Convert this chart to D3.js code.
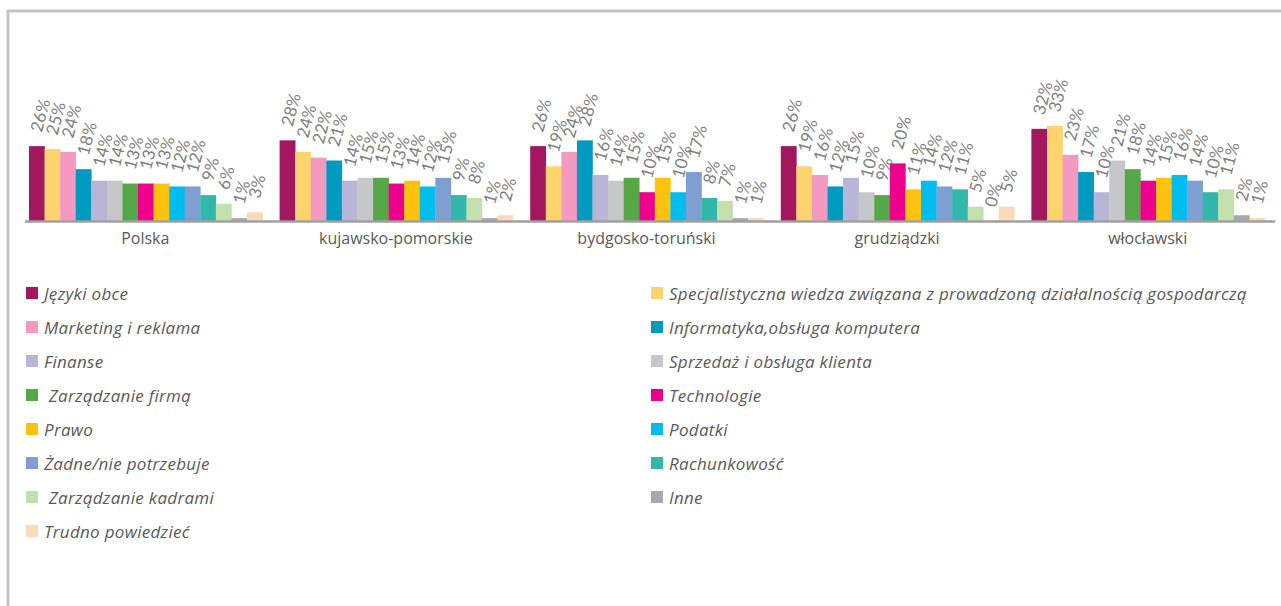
<!DOCTYPE html>
<html><head><meta charset="utf-8">
<script src="https://cdn.jsdelivr.net/npm/d3@7"></script>
<style>
html,body{margin:0;padding:0;background:#fff;}
svg{display:block;font-family:"Open Sans", Lato, sans-serif;}
</style></head>
<body>
<svg id="chart" width="1281" height="606"></svg>
<script>
const categories = ["Polska","kujawsko-pomorskie","bydgosko-toruński","grudziądzki","włocławski"];
const seriesNames = ["Języki obce","Specjalistyczna wiedza związana z prowadzoną działalnością gospodarczą","Marketing i reklama","Informatyka,obsługa komputera","Finanse","Sprzedaż i obsługa klienta"," Zarządzanie firmą","Technologie","Prawo","Podatki","Żadne/nie potrzebuje","Rachunkowość"," Zarządzanie kadrami","Inne","Trudno powiedzieć"];
const seriesColors = ["#a3175f","#ffd46e","#f49ac1","#0099c0","#b8b5d6","#c6c7c9","#55a845","#ec008c","#ffc20e","#00bdf0","#7f9fd3","#31b8aa","#c4e0ae","#a7a9ac","#fddab5"];
const polska = [26,25,24,18,14,14,13,13,13,12,12,9,6,1,3];
const kujawskoPomorskie = [28,24,22,21,14,15,15,13,14,12,15,9,8,1,2];
const bydgoskoTorunski = [26,19,24,28,16,14,15,10,15,10,17,8,7,1,1];
const grudziadzki = [26,19,16,12,15,10,9,20,11,14,12,11,5,0,5];
const wloclawski = [32,33,23,17,10,21,18,14,15,16,14,10,11,2,1];
const groupValues = [polska,kujawskoPomorskie,bydgoskoTorunski,grudziadzki,wloclawski];

const svg = d3.select("#chart");
// frame
svg.append("line").attr("x1",8).attr("x2",1281).attr("y1",11).attr("y2",11).attr("stroke","#c4c4c4").attr("stroke-width",3);
svg.append("line").attr("x1",8).attr("x2",8).attr("y1",10).attr("y2",606).attr("stroke","#c4c4c4").attr("stroke-width",3);

const baseY = 221;
const x0 = d3.scaleBand().domain(categories).range([20,1273]).paddingInner(0).paddingOuter(0);
const x1 = d3.scaleBand().domain(d3.range(seriesNames.length)).range([9,x0.bandwidth()-8]).padding(0);
const y = d3.scaleLinear().domain([0,100]).range([baseY,baseY-288]);

const groups = svg.selectAll("g.grp").data(groupValues).join("g").attr("class","grp")
  .attr("transform",(d,i)=>`translate(${x0(categories[i])},0)`);
groups.selectAll("rect").data(d=>d).join("rect")
  .attr("x",(d,i)=>x1(i)).attr("width",x1.bandwidth()+0.3)
  .attr("y",d=>y(d)).attr("height",d=>baseY-y(d))
  .attr("fill",(d,i)=>seriesColors[i]);
groups.selectAll("text").data(d=>d).join("text")
  .attr("transform",(d,i)=>`translate(${x1(i)+x1.bandwidth()/2+5},${y(d)-13}) rotate(-75)`)
  .attr("font-size",17).attr("fill","#7f7f7f").attr("text-anchor","start")
  .attr("font-family","Lato, sans-serif")
  .text(d=>d+"%");

// axis
const axis = d3.axisBottom(x0).tickSize(0).tickPadding(12);
const ax = svg.append("g").attr("transform",`translate(0,${baseY})`).call(axis);
ax.select(".domain").attr("d","M25,0.5H1275").attr("stroke","#a0a0a0").attr("stroke-width",2.5);
ax.selectAll("text").attr("font-size",16).attr("fill","#595959").attr("font-family","'Open Sans', sans-serif");

// legend
const legend = svg.append("g");
const items = legend.selectAll("g").data(seriesNames).join("g")
  .attr("transform",(d,i)=>`translate(${i%2===0?26:651},${294+Math.floor(i/2)*34})`);
items.append("rect").attr("x",0).attr("y",-7).attr("width",12).attr("height",12).attr("fill",(d,i)=>seriesColors[i]);
items.append("text").attr("x",18).attr("y",6).attr("font-size",17).attr("font-style","italic")
  .attr("letter-spacing",0.3).attr("fill","#595959").style("white-space","pre").text(d=>d);
</script>
</body></html>
